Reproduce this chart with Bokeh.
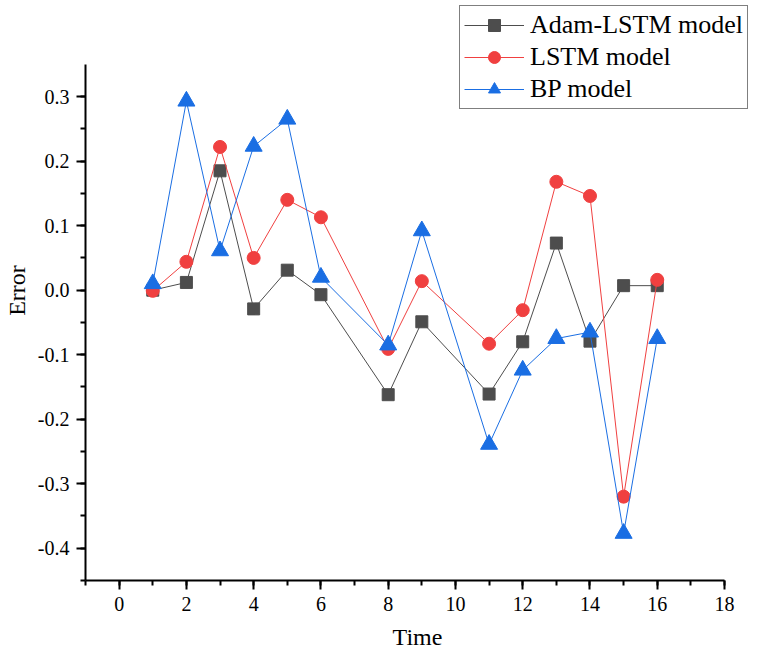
from bokeh.plotting import figure
from bokeh.embed import file_html
from bokeh.resources import INLINE
from bokeh.models import Range1d, SingleIntervalTicker, NumeralTickFormatter, Legend, LegendItem

time = [1, 2, 3, 4, 5, 6, 8, 9, 11, 12, 13, 14, 15, 16]
adam_lstm = [0.0, 0.012, 0.185, -0.029, 0.031, -0.007, -0.162, -0.049, -0.161, -0.080, 0.073, -0.079, 0.007, 0.007]
lstm = [-0.001, 0.044, 0.222, 0.050, 0.140, 0.113, -0.091, 0.014, -0.083, -0.031, 0.168, 0.146, -0.320, 0.016]
bp = [0.010, 0.293, 0.061, 0.223, 0.265, 0.020, -0.085, 0.092, -0.239, -0.124, -0.075, -0.065, -0.377, -0.075]

names = ["Adam-LSTM model", "LSTM model", "BP model"]
x_bounds = (-1, 18)
y_bounds = (-0.45, 0.35)
FONT = "Liberation Serif"

# frame spans the full top/right area so the legend can sit above the axes' ends;
# the axes themselves are limited to their bounds
p = figure(width=749, height=652, output_backend="svg", toolbar_location=None,
           x_range=Range1d(-1, 18.743), y_range=Range1d(-0.45, 0.449),
           min_border_left=85, min_border_right=0, min_border_top=0, min_border_bottom=71)
p.outline_line_color = None
p.xgrid.visible = False
p.ygrid.visible = False
p.background_fill_color = "white"
p.border_fill_color = "white"

p.xaxis.ticker = SingleIntervalTicker(interval=2, num_minor_ticks=2)
p.yaxis.ticker = SingleIntervalTicker(interval=0.1, num_minor_ticks=2)
p.yaxis.formatter = NumeralTickFormatter(format="0.0")
p.xaxis.bounds = x_bounds
p.yaxis.bounds = y_bounds

for ax in (p.xaxis[0], p.yaxis[0]):
    ax.axis_line_width = 2
    ax.axis_line_color = "black"
    ax.major_tick_line_width = 2
    ax.minor_tick_line_width = 2
    ax.major_tick_in = 0
    ax.major_tick_out = 9
    ax.minor_tick_in = 0
    ax.minor_tick_out = 5
    ax.major_label_text_font = FONT
    ax.major_label_text_font_size = "20px"
    ax.major_label_text_color = "black"
    ax.axis_label_text_font = FONT
    ax.axis_label_text_font_size = "24px"
    ax.axis_label_text_font_style = "normal"
    ax.axis_label_text_color = "black"
    ax.major_label_standoff = 7

p.xaxis.axis_label = "Time"
p.yaxis.axis_label = "Error"
p.xaxis.axis_label_standoff = 10
p.yaxis.axis_label_standoff = 5

colors = ["#4d4d4d", "#f04040", "#1a6ee3"]
markers = ["square", "circle", "triangle"]
sizes = [12, 13, 17]
series = [adam_lstm, lstm, bp]

items = []
for name, ys, c, m, s in zip(names, series, colors, markers, sizes):
    l = p.line(time, ys, line_color=c, line_width=1)
    sc = p.scatter(time, ys, marker=m, size=s, fill_color=c, line_color=c)
    items.append(LegendItem(label=name, renderers=[l, sc]))

legend = Legend(items=items, location=(374, 471))
legend.label_text_font = FONT
legend.label_text_font_size = "26px"
legend.label_text_color = "black"
legend.glyph_width = 60
legend.glyph_height = 30
legend.label_height = 30
legend.label_standoff = 6
legend.spacing = 2
legend.padding = 4
legend.margin = 0
legend.border_line_color = "black"
legend.border_line_width = 1.5
legend.background_fill_alpha = 1
p.add_layout(legend, "center")

open("out.html", "w").write(file_html(p, INLINE))
